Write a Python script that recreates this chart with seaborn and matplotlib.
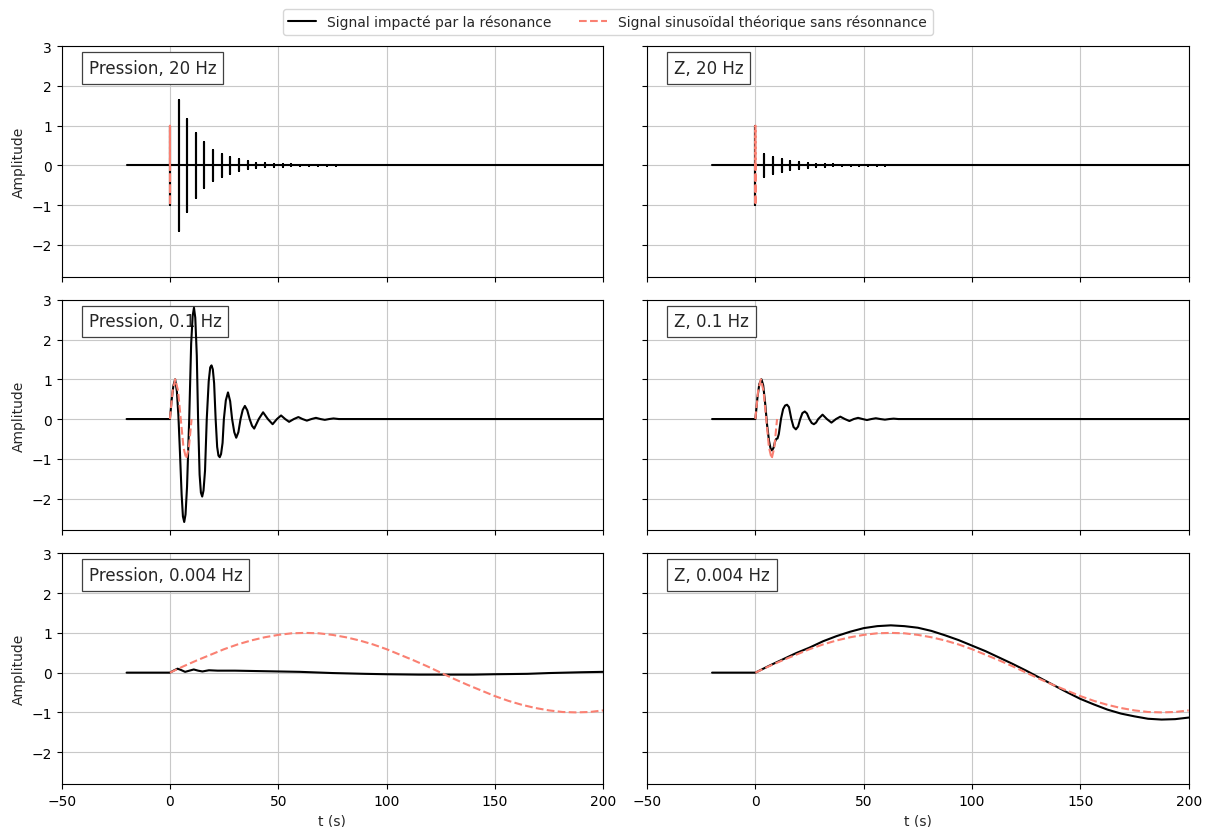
import pandas as pd
import matplotlib
matplotlib.use('Agg')
import matplotlib.pyplot as plt
import seaborn as sns

# --- values ---
# 20 Hz : resonance response seen as bursts (time, half-amplitude)
t_bars_p20 = [0, 4.0, 8.0, 11.9, 15.9, 19.9, 23.9, 27.9, 31.9, 35.9, 39.9, 43.9,
              47.9, 52.0, 56.1, 60.2, 64.3, 68.4, 72.5, 76.6]
amp_bars_p20 = [1.0, 1.64, 1.16, 0.81, 0.58, 0.40, 0.28, 0.21, 0.15, 0.10, 0.07, 0.05,
                0.04, 0.03, 0.025, 0.02, 0.015, 0.012, 0.01, 0.008]
t_bars_z20 = [0, 4.1, 8.2, 12.1, 16.1, 20.0, 24.1, 28.0, 32.0, 35.9, 40.0, 44.0,
              48.0, 52.0, 56.0, 60.0]
amp_bars_z20 = [1.0, 0.30, 0.21, 0.155, 0.11, 0.08, 0.06, 0.045, 0.035, 0.025, 0.02, 0.015,
                0.012, 0.01, 0.008, 0.006]
t_sine_20 = [0, 0.0125, 0.0375, 0.05]
y_sine_20 = [0, 1, -1, 0]

# 0.1 Hz
t_p01 = [-20, 0, 0.8, 1.6, 2.4, 3.2, 3.9, 4.6, 5.4, 6.0, 6.6, 7.2, 7.9, 8.9,
         9.8, 10.5, 11.1, 11.7, 12.4, 13.0,
         13.7, 14.3, 14.9, 15.5, 16.2, 17.0,
         17.9, 18.6, 19.2, 19.8, 20.4, 21.1,
         21.8, 22.4, 23.0, 23.6, 24.3, 24.9,
         25.8, 26.8, 27.8, 28.7,
         29.7, 30.6, 31.6, 32.6,
         33.6, 34.6, 35.7, 36.8,
         37.9, 38.9, 41.0, 43.0, 45.2, 47.4, 49.4, 51.3, 53.2, 55.0, 57.2, 59.3,
         61.2, 63.2, 65.3, 67.4, 69.5, 71.5, 73.5, 75.5, 78.0, 200]
y_p01 = [0, 0, 0.48, 0.84, 1.0, 0.7, 0.1, -0.8, -1.9, -2.45, -2.59, -2.4, -1.7, 0,
         1.9, 2.6, 2.8, 2.55, 1.6, 0,
         -1.4, -1.85, -1.95, -1.8, -1.3, 0,
         0.95, 1.3, 1.35, 1.25, 0.9, 0,
         -0.7, -0.92, -0.96, -0.88, -0.6, 0,
         0.47, 0.67, 0.45, 0,
         -0.33, -0.47, -0.33, 0,
         0.23, 0.33, 0.22, 0,
         -0.17, -0.24, 0, 0.17, 0, -0.13, 0, 0.09, 0, -0.07, 0, 0.05,
         0, -0.04, 0, 0.03, 0, -0.02, 0, 0.015, 0, 0]
t_z01 = [-20, 0, 0.9, 1.8, 2.8, 3.6, 4.5, 5.4, 6.3, 7.0, 7.7,
         8.4, 9.0, 9.6, 10.2, 10.8,
         11.8, 12.8, 13.7, 14.6, 15.5, 16.6,
         17.6, 18.7, 19.7, 20.7,
         21.7, 22.8, 23.8, 24.9,
         26.0, 27.0, 28.0, 29.0,
         31.0, 33.0, 35.1, 37.2, 39.2, 41.3, 43.4, 45.4, 47.4, 49.5, 51.5, 53.5,
         55.6, 57.7, 59.8, 61.8, 63.8, 66.0, 200]
y_z01 = [0, 0, 0.52, 0.88, 1.0, 0.85, 0.4, -0.15, -0.55, -0.74, -0.79,
         -0.72, -0.58, -0.5, -0.49, -0.38,
         0, 0.25, 0.34, 0.36, 0.3, 0,
         -0.2, -0.26, -0.19, 0,
         0.15, 0.19, 0.14, 0,
         -0.1, -0.13, -0.09, 0,
         0.11, 0, -0.09, 0, 0.06, 0, -0.05, 0, 0.03, 0, -0.025, 0,
         0.02, 0, -0.015, 0, 0.01, 0, 0]
t_sine_01 = [0, 1.25, 2.5, 3.75, 5, 6.25, 7.5, 8.75, 10]
y_sine_01 = [0, 0.71, 1, 0.71, 0, -0.71, -1, -0.71, 0]

# 0.004 Hz
t_p0004 = [-20, 0, 2, 3.5, 5, 7, 9, 11, 13, 15, 18, 22, 30, 40, 50, 60, 75, 90,
           100, 115, 125, 140, 150, 165, 175, 190, 200]
y_p0004 = [0, 0, 0.06, 0.1, 0.07, 0.02, 0.05, 0.08, 0.05, 0.03, 0.06, 0.05, 0.05, 0.04,
           0.03, 0.02, -0.01, -0.03, -0.04, -0.05, -0.05, -0.05, -0.04, -0.03, -0.01, 0.01, 0.02]
t_z0004 = [-20, 0, 6.25, 12.5, 18.75, 25, 31.25, 37.5, 43.75, 50, 56.25, 62.5, 68.75,
           75, 81.25, 87.5, 93.75, 100, 106.25, 112.5, 118.75, 125, 131.25, 137.5,
           143.75, 150, 156.25, 162.5, 168.75, 175, 181.25, 187.5, 193.75, 200]
y_z0004 = [0, 0, 0.17, 0.33, 0.49, 0.63, 0.79, 0.92, 1.03, 1.12, 1.17, 1.19, 1.17,
           1.13, 1.05, 0.94, 0.82, 0.68, 0.54, 0.38, 0.22, 0.05, -0.13, -0.31,
           -0.49, -0.66, -0.80, -0.93, -1.03, -1.1, -1.16, -1.18, -1.17, -1.13]
t_sine_0004 = [0, 6.25, 12.5, 18.75, 25, 31.25, 37.5, 43.75, 50, 56.25, 62.5, 68.75,
               75, 81.25, 87.5, 93.75, 100, 106.25, 112.5, 118.75, 125, 131.25, 137.5,
               143.75, 150, 156.25, 162.5, 168.75, 175, 181.25, 187.5, 193.75, 200]
y_sine_0004 = [0, 0.16, 0.31, 0.45, 0.59, 0.71, 0.81, 0.89, 0.95, 0.99, 1.0, 0.99,
               0.95, 0.89, 0.81, 0.71, 0.59, 0.45, 0.31, 0.16, 0, -0.16, -0.31,
               -0.45, -0.59, -0.71, -0.81, -0.89, -0.95, -0.99, -1.0, -0.99, -0.95]

titles = ['Pression, 20 Hz', 'Z, 20 Hz',
          'Pression, 0.1 Hz', 'Z, 0.1 Hz',
          'Pression, 0.004 Hz', 'Z, 0.004 Hz']
label_signal = 'Signal impacté par la résonance'
label_sine = 'Signal sinusoïdal théorique sans résonnance'


def bars_to_frame(times, amps):
    # flat baseline with a vertical burst at each read time
    t, y = [-20, 0], [0, 0]
    for tb, a in zip(times, amps):
        t += [tb, tb, tb, tb]
        y += [0, a, -a, 0]
    t.append(200)
    y.append(0)
    return pd.DataFrame({'t': t, 'amp': y})


def frame(t, y):
    return pd.DataFrame({'t': t, 'amp': y})


signals = [bars_to_frame(t_bars_p20, amp_bars_p20), bars_to_frame(t_bars_z20, amp_bars_z20),
           frame(t_p01, y_p01), frame(t_z01, y_z01),
           frame(t_p0004, y_p0004), frame(t_z0004, y_z0004)]
sines = [frame(t_sine_20, y_sine_20), frame(t_sine_20, y_sine_20),
         frame(t_sine_01, y_sine_01), frame(t_sine_01, y_sine_01),
         frame(t_sine_0004, y_sine_0004), frame(t_sine_0004, y_sine_0004)]

sns.set_style('ticks', rc={'axes.edgecolor': 'black', 'xtick.color': 'black',
                           'ytick.color': 'black', 'xtick.major.size': 3.5,
                           'ytick.major.size': 3.5, 'axes.linewidth': 0.8,
                           'axes.axisbelow': True})
plt.rcParams['font.family'] = ['DejaVu Sans']

fig, axes = plt.subplots(3, 2, figsize=(12.08, 8.28), dpi=100, sharex=True, sharey=True)
fig.subplots_adjust(left=0.051, right=0.984, top=0.943, bottom=0.052, wspace=0.081, hspace=0.1)

for i, ax in enumerate(axes.flat):
    sns.lineplot(data=signals[i], x='t', y='amp', ax=ax, color='black', lw=1.5,
                 estimator=None, sort=False, label=label_signal, legend=False)
    sns.lineplot(data=sines[i], x='t', y='amp', ax=ax, color='salmon', lw=1.5,
                 linestyle='--', estimator=None, sort=False, label=label_sine, legend=False)
    ax.grid(True, color='#c8c8c8', lw=0.8)
    ax.text(0.05, 0.945, titles[i], transform=ax.transAxes, fontsize=12,
            ha='left', va='top', zorder=1.8,
            bbox=dict(boxstyle='square,pad=0.4', facecolor='white', edgecolor='0.25', lw=0.9))
    ax.set_xlim(-50, 200)
    ax.set_ylim(-2.8, 3)
    ax.set_xticks([-50, 0, 50, 100, 150, 200])
    ax.set_yticks([-2, -1, 0, 1, 2, 3])
    ax.set_xlabel('t (s)' if i >= 4 else '')
    ax.set_ylabel('Amplitude' if i % 2 == 0 else '')

handles, labels = axes[0, 0].get_legend_handles_labels()
fig.legend(handles, labels, loc='upper center', bbox_to_anchor=(0.503, 0.996), ncol=2,
           fontsize=10)

fig.savefig('out.png', dpi=100)
